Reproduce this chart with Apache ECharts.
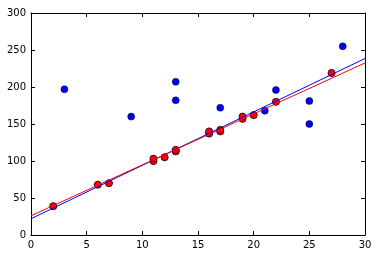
<!DOCTYPE html>
<html><head><meta charset="utf-8">
<script src="https://cdn.jsdelivr.net/npm/echarts@6/dist/echarts.min.js"></script>
<style>html,body{margin:0;padding:0;background:#fff}#c{width:378px;height:256px}</style>
</head><body><div id="c"></div>
<script>
// all data points (blue)
var allX = [2, 3, 6, 7, 9, 11, 11, 12, 13, 13, 13, 13, 16, 16, 17, 17, 17, 19, 19, 20, 21, 22, 22, 25, 25, 27, 28];
var allY = [39, 197, 68, 70, 160, 100, 103, 105, 113, 115, 182, 207, 137, 140, 140, 142, 172, 157, 160, 162, 168, 180, 196, 181, 150, 219, 255];
// inliers (red)
var inX = [2, 6, 7, 11, 11, 12, 13, 13, 16, 16, 17, 17, 19, 19, 20, 22, 27];
var inY = [39, 68, 70, 100, 103, 105, 113, 115, 137, 140, 140, 142, 157, 160, 162, 180, 219];
// fitted lines (endpoints)
var blueLineX = [0, 30];
var blueLineY = [22, 238.5];
var redLineX = [0, 30];
var redLineY = [26, 232.5];
var xTicks = [0, 5, 10, 15, 20, 25, 30];
var yTicks = [0, 50, 100, 150, 200, 250, 300];

function zip(a, b) { return a.map(function (v, i) { return [v, b[i]]; }); }

var chart = echarts.init(document.getElementById('c'), null, {renderer: 'canvas'});
var labelStyle = {color: '#000', fontSize: 10, fontFamily: 'DejaVu Sans'};
var lineStyleAxis = {color: '#000', width: 1};
chart.setOption({
  animation: false,
  grid: {left: 31, right: 13, top: 13, bottom: 21, show: false},
  xAxis: [{
    type: 'value', min: xTicks[0], max: xTicks[xTicks.length - 1], interval: 5,
    axisLine: {show: true, onZero: false, lineStyle: lineStyleAxis},
    axisTick: {show: true, inside: true, length: 4, lineStyle: lineStyleAxis},
    axisLabel: Object.assign({margin: 5}, labelStyle),
    splitLine: {show: false}
  }, {
    type: 'value', position: 'top', min: xTicks[0], max: xTicks[xTicks.length - 1], interval: 5,
    axisLine: {show: true, onZero: false, lineStyle: lineStyleAxis},
    axisTick: {show: true, inside: true, length: 4, lineStyle: lineStyleAxis},
    axisLabel: {show: false}, splitLine: {show: false}
  }],
  yAxis: [{
    type: 'value', min: yTicks[0], max: yTicks[yTicks.length - 1], interval: 50,
    axisLine: {show: true, onZero: false, lineStyle: lineStyleAxis},
    axisTick: {show: true, inside: true, length: 4, lineStyle: lineStyleAxis},
    axisLabel: Object.assign({margin: 5}, labelStyle),
    splitLine: {show: false}
  }, {
    type: 'value', position: 'right', min: yTicks[0], max: yTicks[yTicks.length - 1], interval: 50,
    axisLine: {show: true, onZero: false, lineStyle: lineStyleAxis},
    axisTick: {show: true, inside: true, length: 4, lineStyle: lineStyleAxis},
    axisLabel: {show: false}, splitLine: {show: false}
  }],
  series: [{
    type: 'scatter', data: zip(allX, allY), symbolSize: 7, z: 2,
    itemStyle: {color: '#0000ff', borderColor: '#000', borderWidth: 0.5, opacity: 1}
  }, {
    type: 'scatter', data: zip(inX, inY), symbolSize: 7, z: 3,
    itemStyle: {color: '#ff0000', borderColor: '#000', borderWidth: 0.5, opacity: 1}
  }, {
    type: 'line', data: zip(blueLineX, blueLineY), showSymbol: false, symbol: 'none', z: 4,
    lineStyle: {color: '#0000ff', width: 1}
  }, {
    type: 'line', data: zip(redLineX, redLineY), showSymbol: false, symbol: 'none', z: 5,
    lineStyle: {color: '#ff0000', width: 1}
  }]
});
</script></body></html>
